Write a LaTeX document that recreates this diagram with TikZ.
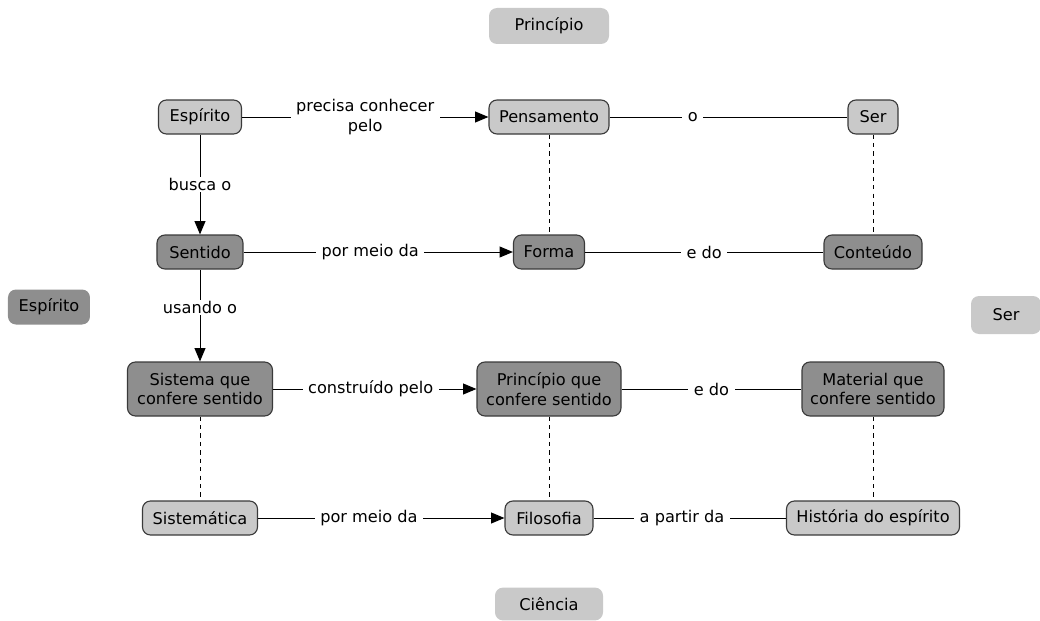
\documentclass[tikz,border=0pt]{standalone}
\usepackage{fontspec}
\setmainfont{DejaVu Sans}
\usetikzlibrary{positioning, arrows.meta}

\definecolor{lightbox}{HTML}{C9C9C9}
\definecolor{darkbox}{HTML}{8E8E8E}
\definecolor{edgegray}{HTML}{3A3A3A}

\begin{document}
\begin{tikzpicture}[
    >={Triangle[length=0.33cm,width=0.27cm]},
    on grid,
    font=\fontsize{11.5}{13.8}\selectfont,
    concept/.style={
        rectangle,
        rounded corners=0.2cm,
        draw=edgegray,
        line width=0.8pt,
        minimum height=0.85cm,
        inner xsep=0.1cm,
        align=center
    },
    light/.style={concept, fill=lightbox},
    dark/.style={concept, fill=darkbox},
    side/.style={
        rectangle,
        rounded corners=0.2cm,
        minimum height=0.9cm,
        align=center
    },
    arrow/.style={->, line width=0.7pt},
    link/.style={line width=0.7pt},
    dotted link/.style={dashed, line width=0.7pt},
    lbl/.style={fill=white, inner xsep=0.14cm, inner ysep=1pt, align=center}
]
\useasboundingbox (-5,2.925) rectangle (21,-12.6);

% Row 1
\node[light, minimum width=2.075cm] (espirito) at (0,0) {Espírito};
\node[light, minimum width=3cm, right=8.725cm of espirito] (pensamento) {Pensamento};
\node[light, minimum width=1.25cm, right=8.1cm of pensamento] (ser) {Ser};

% Row 2
\node[dark, minimum width=2.15cm, below=3.375cm of espirito] (sentido) {Sentido};
\node[dark, minimum width=1.775cm, below=3.375cm of pensamento] (forma) {Forma};
\node[dark, minimum width=2.45cm, below=3.375cm of ser] (conteudo) {Conteúdo};

% Row 3
\node[dark, minimum width=3.625cm, minimum height=1.35cm, below=3.425cm of sentido] (sistema) {Sistema que\\confere sentido};
\node[dark, minimum width=3.6cm, minimum height=1.35cm, below=3.425cm of forma] (principiosent) {Princípio que\\confere sentido};
\node[dark, minimum width=3.55cm, minimum height=1.35cm, below=3.425cm of conteudo] (material) {Material que\\confere sentido};

% Row 4
\node[light, minimum width=2.875cm, below=3.225cm of sistema] (sistematica) {Sistemática};
\node[light, minimum width=2.2cm, below=3.225cm of principiosent] (filosofia) {Filosofia};
\node[light, minimum width=4.325cm, below=3.225cm of material] (historia) {História do espírito};

% Side labels
\node[side, fill=lightbox, minimum width=3cm, above=2.275cm of pensamento] (principio) {Princípio};
\node[side, fill=lightbox, minimum width=2.7cm, minimum height=0.82cm, below=2.15cm of filosofia] (ciencia) {Ciência};
\node[side, fill=darkbox, minimum width=2.05cm, minimum height=0.875cm] (espiritoside) at (-3.775,-4.75) {Espírito};
\node[side, fill=lightbox, minimum width=1.75cm, minimum height=0.95cm] (serside) at (20.15,-4.95) {Ser};

% Horizontal links
\draw[arrow] (espirito) -- node[lbl] {precisa conhecer\\pelo} (pensamento);
\draw[link] (pensamento) -- node[lbl, pos=0.35] {o} (ser);
\draw[arrow] (sentido) -- node[lbl, pos=0.47] {por meio da} (forma);
\draw[link] (forma) -- node[lbl] {e do} (conteudo);
\draw[arrow] (sistema) -- node[lbl, pos=0.48] {construído pelo} (principiosent);
\draw[link] (principiosent) -- node[lbl] {e do} (material);
\draw[arrow] (sistematica) -- node[lbl, pos=0.45] {por meio da} (filosofia);
\draw[link] (filosofia) -- node[lbl, pos=0.46] {a partir da} (historia);

% Vertical links
\draw[arrow] (espirito) -- node[lbl] {busca o} (sentido);
\draw[arrow] (sentido) -- node[lbl, pos=0.41] {usando o} (sistema);
\draw[dotted link] (pensamento) -- (forma);
\draw[dotted link] (ser) -- (conteudo);
\draw[dotted link] (sistema) -- (sistematica);
\draw[dotted link] (principiosent) -- (filosofia);
\draw[dotted link] (material) -- (historia);

\end{tikzpicture}
\end{document}
